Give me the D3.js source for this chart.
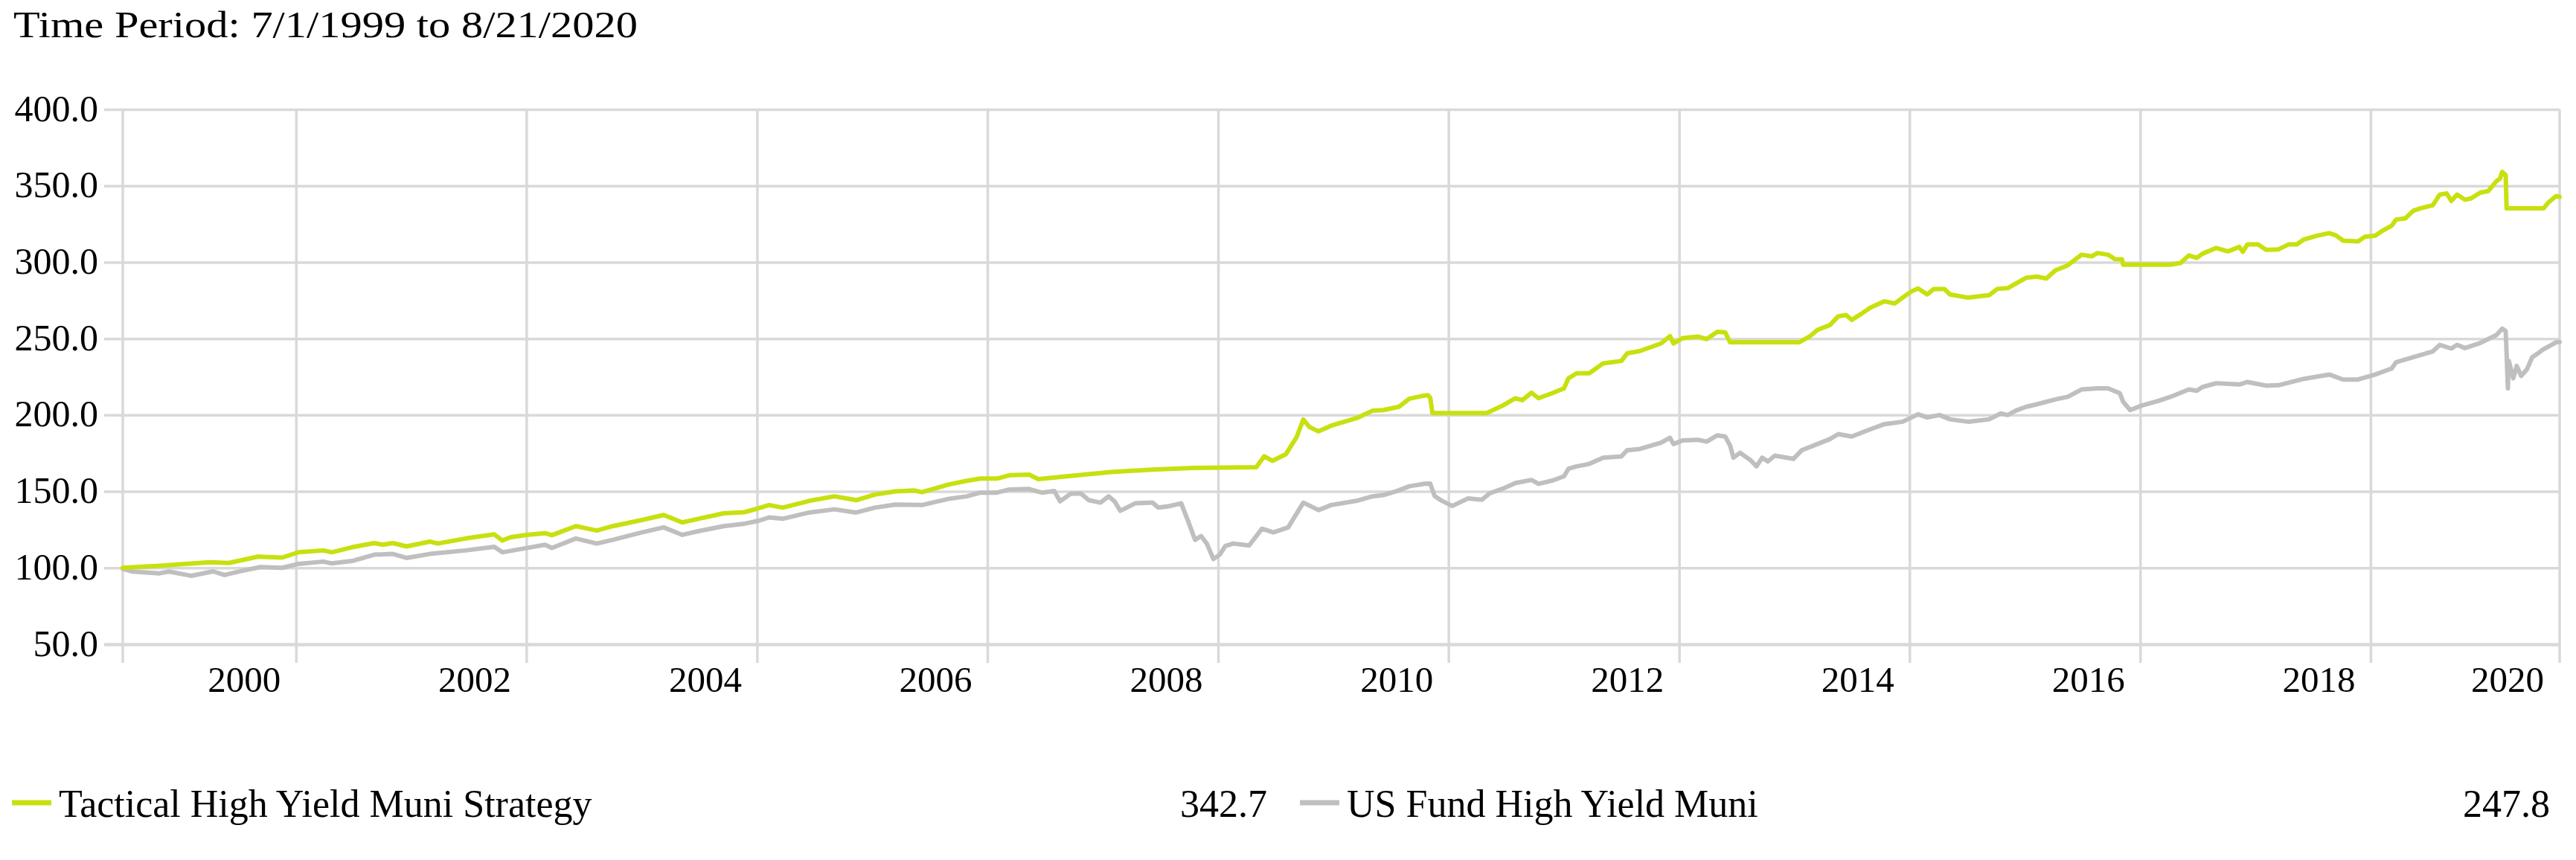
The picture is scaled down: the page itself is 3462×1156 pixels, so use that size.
<!DOCTYPE html>
<html>
<head>
<meta charset="utf-8">
<script src="https://cdnjs.cloudflare.com/ajax/libs/d3/7.8.5/d3.min.js"></script>
<style>
    body { margin: 0; background: #fff; }
    text { font-family: "Liberation Serif", "DejaVu Serif", serif; fill: #000; }
</style>
</head>
<body>
<div id="chart"></div>
<script>
// Chart data (growth of 100)
const title = "Time Period: 7/1/1999 to 8/21/2020";
const seriesNames = ["Tactical High Yield Muni Strategy", "US Fund High Yield Muni"];
const finalValues = ["342.7", "247.8"];
const seriesColors = ["#c8e00f", "#bfbfbf"];

const yTicks = [50, 100, 150, 200, 250, 300, 350, 400];
const yearLabels = [2000, 2002, 2004, 2006, 2008, 2010, 2012, 2014, 2016, 2018, 2020];
const gridYears = [2001, 2003, 2005, 2007, 2009, 2011, 2013, 2015, 2017, 2019];

const tacticalDates = [
    "1999-07-01","1999-10-26","2000-04-01","2000-06-01","2000-09-01","2000-11-17","2001-01-08","2001-03-28",
    "2001-04-23","2001-06-27","2001-09-05","2001-10-01","2001-11-03","2001-12-16","2002-02-28","2002-03-25",
    "2002-06-21","2002-09-20","2002-10-16","2002-11-10","2003-01-01","2003-02-28","2003-03-22","2003-06-06",
    "2003-08-11","2003-10-01","2004-01-01","2004-03-10","2004-05-08","2004-06-28","2004-09-16","2004-11-21",
    "2005-01-05","2005-02-07","2005-03-22","2005-06-14","2005-09-02","2005-11-10","2006-01-08","2006-03-14",
    "2006-05-15","2006-06-06","2006-08-29","2006-10-27","2006-12-09","2007-01-30","2007-03-11","2007-05-12",
    "2007-06-10","2007-09-20","2008-01-26","2008-06-06","2008-10-12","2009-05-01","2009-05-26","2009-06-21",
    "2009-08-03","2009-09-06","2009-09-27","2009-10-16","2009-11-14","2009-12-24","2010-03-14","2010-05-04",
    "2010-06-07","2010-07-27","2010-08-29","2010-10-05","2010-10-27","2010-11-03","2010-11-10","2011-05-01",
    "2011-06-21","2011-07-31","2011-08-22","2011-09-20","2011-10-12","2011-11-25","2012-01-01","2012-01-15",
    "2012-02-10","2012-03-21","2012-05-04","2012-07-01","2012-07-19","2012-08-29","2012-11-03","2012-12-02",
    "2012-12-13","2013-01-11","2013-02-28","2013-03-28","2013-05-01","2013-05-26","2013-06-10","2014-01-15",
    "2014-02-17","2014-03-14","2014-04-23","2014-05-19","2014-06-13","2014-07-01","2014-07-31","2014-08-29",
    "2014-10-12","2014-11-14","2014-12-09","2015-01-05","2015-01-27","2015-02-25","2015-03-18","2015-04-20",
    "2015-05-08","2015-07-05","2015-09-09","2015-10-05","2015-11-07","2015-12-03","2016-01-05","2016-02-07",
    "2016-03-08","2016-04-06","2016-05-15","2016-06-28","2016-07-31","2016-08-18","2016-09-20","2016-10-12",
    "2016-11-03","2016-11-07","2017-04-06","2017-05-08","2017-06-03","2017-06-28","2017-07-16","2017-08-29",
    "2017-10-05","2017-11-10","2017-11-21","2017-12-06","2018-01-08","2018-02-03","2018-03-14","2018-04-16",
    "2018-05-11","2018-06-03","2018-07-16","2018-08-22","2018-09-13","2018-10-05","2018-11-21","2018-12-13",
    "2019-01-15","2019-02-07","2019-03-08","2019-03-22","2019-04-20","2019-05-15","2019-06-06","2019-07-16",
    "2019-08-07","2019-08-29","2019-09-13","2019-10-01","2019-10-26","2019-11-14","2019-12-13","2020-01-08",
    "2020-02-03","2020-02-14","2020-02-21","2020-03-03","2020-03-06","2020-07-01","2020-07-16","2020-08-10",
    "2020-08-21"
];
const tacticalValues = [
    100.0, 101.3, 103.7, 103.2, 107.3, 106.7, 110.2, 111.4,
    110.2, 113.5, 116.2, 115.1, 116.2, 114.0, 117.2, 115.9,
    119.2, 121.9, 117.9, 120.0, 121.6, 122.7, 121.4, 127.3,
    124.4, 127.3, 131.3, 134.6, 129.7, 132.1, 135.7, 136.4,
    139.0, 141.1, 139.4, 143.8, 146.8, 144.3, 147.9, 150.0,
    150.6, 149.5, 154.5, 157.0, 158.4, 158.4, 160.6, 161.0,
    158.1, 160.1, 162.7, 164.3, 165.4, 165.9, 173.0, 170.0,
    174.4, 185.7, 197.1, 192.2, 189.3, 193.0, 197.9, 202.8,
    203.2, 205.4, 210.7, 212.3, 213.0, 211.4, 201.3, 201.3,
    206.2, 211.0, 209.7, 214.6, 211.0, 214.3, 217.5, 224.0,
    227.3, 227.3, 233.8, 235.4, 240.3, 241.9, 246.8, 251.6,
    246.8, 250.3, 251.3, 249.7, 254.5, 254.1, 247.6, 247.6,
    251.3, 255.7, 258.9, 264.6, 265.4, 262.2, 266.2, 270.3,
    274.4, 273.0, 276.8, 280.8, 282.8, 278.9, 282.5, 282.5,
    278.9, 276.8, 278.4, 282.5, 283.0, 286.0, 289.8, 290.6,
    289.3, 294.6, 297.9, 304.9, 303.9, 306.0, 304.9, 301.9,
    301.9, 298.4, 298.4, 299.5, 304.4, 302.8, 305.5, 309.3,
    307.1, 310.0, 306.8, 311.7, 311.7, 308.1, 308.4, 311.7,
    311.7, 314.9, 317.4, 319.0, 317.4, 314.1, 313.6, 316.6,
    317.4, 320.6, 323.9, 327.9, 328.7, 333.6, 335.2, 337.3,
    344.2, 345.0, 340.1, 344.2, 340.9, 341.7, 345.5, 346.6,
    353.1, 354.7, 359.1, 357.1, 335.2, 335.2, 339.0, 343.3,
    342.7
];

const fundDates = [
    "1999-07-01","1999-07-30","1999-10-26","1999-11-24","2000-02-03","2000-04-12","2000-05-18","2000-07-12",
    "2000-09-09","2000-11-17","2001-01-08","2001-03-28","2001-04-23","2001-06-27","2001-09-05","2001-11-03",
    "2001-12-16","2002-02-28","2002-06-21","2002-09-20","2002-10-16","2003-01-01","2003-02-28","2003-03-22",
    "2003-06-06","2003-08-11","2003-10-01","2004-01-01","2004-03-10","2004-05-08","2004-06-28","2004-09-16",
    "2004-11-21","2005-01-05","2005-02-07","2005-03-22","2005-06-14","2005-09-02","2005-11-10","2006-01-08",
    "2006-03-14","2006-06-06","2006-08-29","2006-10-27","2006-12-09","2007-01-30","2007-03-11","2007-05-12",
    "2007-06-21","2007-07-31","2007-08-18","2007-09-20","2007-10-23","2007-11-17","2007-12-24","2008-01-19",
    "2008-02-07","2008-02-25","2008-04-12","2008-06-06","2008-06-24","2008-07-27","2008-09-05","2008-09-27",
    "2008-10-19","2008-11-07","2008-11-25","2008-12-16","2009-01-05","2009-01-23","2009-02-17","2009-04-08",
    "2009-05-19","2009-06-24","2009-08-10","2009-09-27","2009-11-14","2009-12-24","2010-03-14","2010-05-04",
    "2010-06-07","2010-07-20","2010-08-29","2010-10-16","2010-11-03","2010-11-17","2010-12-09","2011-01-12",
    "2011-03-03","2011-04-16","2011-05-11","2011-06-21","2011-07-31","2011-09-20","2011-10-12","2011-11-25",
    "2012-01-01","2012-01-15","2012-02-10","2012-03-21","2012-05-04","2012-07-01","2012-07-19","2012-08-29",
    "2012-11-03","2012-12-02","2012-12-13","2013-01-11","2013-02-28","2013-03-28","2013-05-01","2013-05-26",
    "2013-06-10","2013-06-21","2013-07-12","2013-08-14","2013-09-02","2013-09-20","2013-10-08","2013-10-30",
    "2013-12-28","2014-01-23","2014-03-14","2014-04-23","2014-05-19","2014-07-01","2014-08-29","2014-10-12",
    "2014-12-09","2015-01-27","2015-02-25","2015-04-05","2015-05-08","2015-07-05","2015-09-09","2015-10-16",
    "2015-11-07","2015-12-03","2016-01-05","2016-02-07","2016-04-06","2016-05-15","2016-06-28","2016-08-18",
    "2016-09-20","2016-10-27","2016-11-07","2016-11-29","2017-01-05","2017-02-28","2017-04-06","2017-06-03",
    "2017-06-28","2017-07-16","2017-08-29","2017-11-10","2017-12-06","2018-02-03","2018-03-14","2018-06-03",
    "2018-08-22","2018-10-05","2018-11-21","2019-01-15","2019-03-08","2019-03-22","2019-05-15","2019-07-16",
    "2019-08-07","2019-09-13","2019-10-01","2019-10-26","2019-12-13","2020-02-03","2020-02-21","2020-03-03",
    "2020-03-06","2020-03-10","2020-03-13","2020-03-27","2020-04-07","2020-04-21","2020-05-09","2020-05-26",
    "2020-06-13","2020-06-28","2020-08-10","2020-08-21"
];
const fundValues = [
    99.4, 97.6, 96.4, 97.6, 94.8, 97.7, 95.3, 98.0,
    100.5, 100.0, 102.6, 104.1, 102.9, 104.5, 108.6, 109.1,
    106.5, 109.1, 111.4, 113.8, 110.2, 113.0, 115.1, 113.0,
    119.2, 115.9, 118.3, 123.2, 126.5, 121.6, 124.0, 127.3,
    128.9, 130.8, 133.0, 132.1, 136.2, 138.3, 136.2, 139.4,
    141.4, 141.1, 145.1, 146.8, 149.2, 149.2, 151.3, 151.6,
    149.2, 150.3, 143.5, 148.4, 148.7, 144.3, 142.7, 146.8,
    143.5, 137.3, 142.2, 142.7, 139.4, 140.3, 142.2, 130.5,
    118.3, 120.8, 115.9, 105.8, 108.6, 114.3, 115.9, 114.6,
    125.6, 123.2, 126.5, 142.7, 137.8, 141.1, 143.8, 146.8,
    147.6, 150.2, 153.4, 155.0, 155.1, 147.0, 144.0, 140.5,
    145.4, 144.6, 148.8, 151.8, 155.5, 157.5, 155.0, 157.1,
    159.9, 164.8, 166.4, 168.0, 172.1, 172.9, 176.9, 177.8,
    181.8, 185.1, 181.0, 183.4, 183.8, 182.6, 186.7, 185.9,
    180.2, 172.1, 175.3, 170.5, 166.4, 172.1, 169.6, 173.4,
    171.3, 176.9, 181.0, 184.3, 187.5, 185.9, 190.7, 194.0,
    195.6, 200.5, 198.4, 200.0, 197.2, 195.6, 197.2, 201.0,
    200.0, 202.9, 205.4, 207.0, 210.2, 211.9, 216.7, 217.5,
    217.5, 214.3, 208.6, 203.2, 206.2, 209.4, 211.9, 216.7,
    215.9, 218.3, 220.8, 220.0, 221.6, 219.2, 219.5, 223.7,
    226.5, 223.2, 223.2, 226.5, 230.5, 234.6, 237.8, 241.6,
    245.9, 243.5, 245.9, 243.8, 247.1, 252.4, 256.5, 254.9,
    240.3, 217.5, 235.4, 224.0, 232.1, 225.6, 229.7, 237.8,
    240.3, 242.7, 247.6, 247.8
];

const parseDate = d3.timeParse("%Y-%m-%d");
const series = [
    { name: seriesNames[0], color: seriesColors[0], final: finalValues[0],
      values: tacticalDates.map((d, i) => ({ date: parseDate(d), value: tacticalValues[i] })) },
    { name: seriesNames[1], color: seriesColors[1], final: finalValues[1],
      values: fundDates.map((d, i) => ({ date: parseDate(d), value: fundValues[i] })) }
];

// Set up SVG
const W = 3462, H = 1156;
const plot = { left: 165, right: 3440, top: 147, bottom: 866 };
const gridColor = "#d9d9d9";

const svg = d3.select("#chart")
    .append("svg")
    .attr("width", W)
    .attr("height", H);

const xScale = d3.scaleTime()
    .domain([parseDate("1999-07-01"), parseDate("2020-08-21")])
    .range([plot.left, plot.right]);

const yScale = d3.scaleLinear()
    .domain([50, 400])
    .range([plot.bottom, plot.top]);

// Title
svg.append("text")
    .attr("x", 18)
    .attr("y", 50)
    .attr("font-size", "50px")
    .attr("textLength", 839)
    .attr("lengthAdjust", "spacingAndGlyphs")
    .text(title);

// Horizontal gridlines + y labels
const yAxis = d3.axisLeft(yScale)
    .tickValues(yTicks)
    .tickSize(-(plot.right - plot.left) - 25)
    .tickPadding(8)
    .tickFormat(d3.format(".1f"));

const yG = svg.append("g")
    .attr("transform", `translate(${plot.left - 25},0)`)
    .call(yAxis);
yG.select(".domain").remove();
yG.selectAll(".tick line")
    .attr("stroke", gridColor)
    .attr("stroke-width", d => d === 50 ? 4.5 : 3.5);
yG.selectAll(".tick text")
    .attr("font-family", "Liberation Serif, serif")
    .attr("font-size", "50px")
    .attr("dy", "0.3em");

// Vertical gridlines (every other January, plus chart edges)
const vLines = gridYears.map(y => xScale(new Date(y, 0, 1))).concat([plot.left, plot.right]);
svg.append("g")
    .selectAll("line")
    .data(vLines)
    .join("line")
    .attr("x1", d => d)
    .attr("x2", d => d)
    .attr("y1", plot.top)
    .attr("y2", plot.bottom + 25)
    .attr("stroke", gridColor)
    .attr("stroke-width", 3.5);

// Year labels, centred mid-year, last one kept inside the plot
svg.append("g")
    .selectAll("text")
    .data(yearLabels)
    .join("text")
    .attr("y", 930)
    .attr("text-anchor", "middle")
    .attr("font-size", "49px")
    .text(d => d)
    .attr("x", function(d) {
        const cx = xScale(new Date(d, 6, 20));
        const half = this.getComputedTextLength() / 2;
        return Math.min(cx, plot.right - 21 - half);
    });

// Lines
const line = d3.line()
    .x(d => xScale(d.date))
    .y(d => yScale(d.value));

svg.append("g")
    .selectAll("path")
    .data(series.slice().reverse())
    .join("path")
    .attr("d", d => line(d.values))
    .attr("fill", "none")
    .attr("stroke", d => d.color)
    .attr("stroke-width", 6)
    .attr("stroke-linejoin", "round")
    .attr("stroke-linecap", "round");

// Legend
const legendCols = [
    { x: 16, valueX: 1703 },
    { x: 1747, valueX: 3427 }
];

series.forEach((s, i) => {
    const col = legendCols[i];
    const g = svg.append("g");
    g.append("line")
        .attr("x1", col.x)
        .attr("x2", col.x + 53)
        .attr("y1", 1079)
        .attr("y2", 1079)
        .attr("stroke", s.color)
        .attr("stroke-width", 7);
    g.append("text")
        .attr("x", col.x + 63)
        .attr("y", 1098)
        .attr("font-size", "52px")
        .text(s.name);
    g.append("text")
        .attr("x", col.valueX)
        .attr("y", 1098)
        .attr("text-anchor", "end")
        .attr("font-size", "52px")
        .text(s.final);
});
</script>
</body>
</html>
